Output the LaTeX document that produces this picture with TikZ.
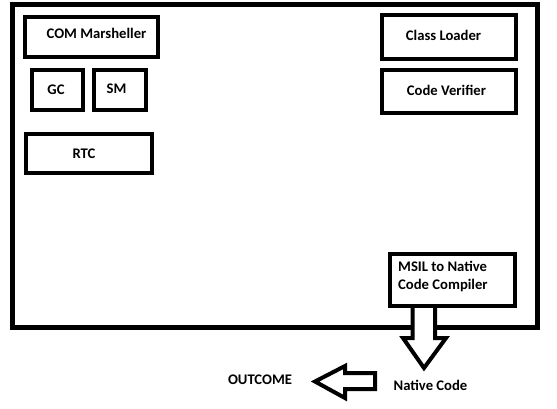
\documentclass[tikz,border=0pt]{standalone}
\usepackage{fontspec}
\setmainfont{Carlito}
\begin{document}
\begin{tikzpicture}[x=1pt,y=-1pt,
  box/.style={draw=black,line width=4pt,inner sep=0pt,rectangle},
  lbl/.style={font=\fontsize{14.67}{18}\selectfont\bfseries,inner sep=0pt},
  blockarrow/.style={draw=black,fill=white,line width=4pt,line join=miter}]
\useasboundingbox (0,0) rectangle (557,408);
% outer frame
\node[box,line width=5pt,minimum width=525pt,minimum height=322.5pt] (frame) at (275,165.75) {};
% inner boxes
\node[box,minimum width=133pt,minimum height=40pt] (com) at (91.5,37) {};
\node[box,minimum width=51pt,minimum height=40pt] (gc) at (57.5,90) {};
\node[box,minimum width=52pt,minimum height=40pt] (sm) at (120,90) {};
\node[box,minimum width=126pt,minimum height=39pt] (rtc) at (89,153.5) {};
\node[box,minimum width=134pt,minimum height=44pt] (cl) at (449,37) {};
\node[box,minimum width=134pt,minimum height=43pt] (cv) at (449,91.5) {};
\node[box,minimum width=125pt,minimum height=52pt] (msil) at (452.5,280) {};
% texts
\node[lbl] (comT) at (96.5,33) {COM Marsheller};
\node[lbl] (gcT) at (56,90) {GC};
\node[lbl] (smT) at (116.5,88.5) {SM};
\node[lbl] (rtcT) at (84,153.5) {RTC};
\node[lbl] (clT) at (443.5,35) {Class Loader};
\node[lbl] (cvT) at (446.5,90.5) {Code Verifier};
\node[lbl,anchor=west,align=left] (msilT) at (398,276) {MSIL to Native\\Code Compiler};
\node[lbl] (native) at (430.5,385) {Native Code};
\node[lbl] (outcome) at (260,380) {OUTCOME};
% block arrows
\filldraw[blockarrow] (412.5,308) -- (412.5,338) -- (403,338) -- (424,368) -- (446,338) -- (435,338) -- (435,308);
\filldraw[blockarrow] (375,373) -- (375,389) -- (345,389) -- (345,398) -- (315,381.5) -- (345,366) -- (345,373) -- cycle;
\end{tikzpicture}
\end{document}
